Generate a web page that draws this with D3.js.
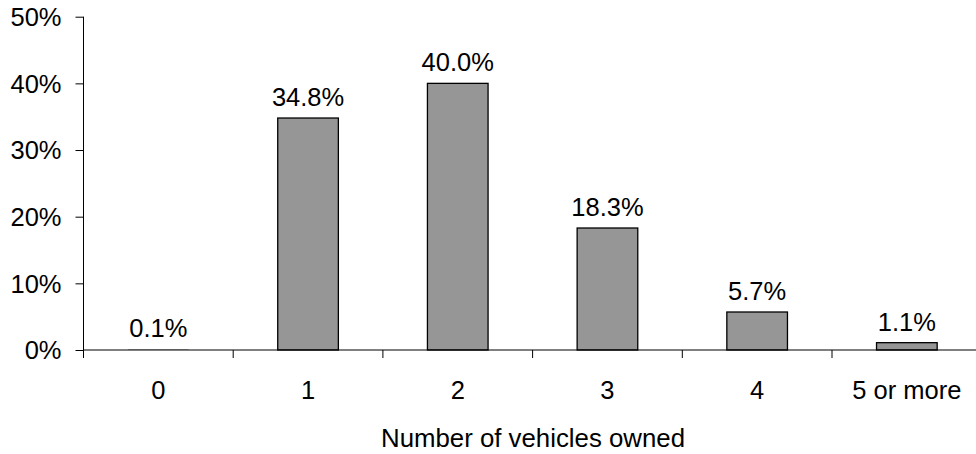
<!DOCTYPE html>
<html>
<head>
<meta charset="utf-8">
<script src="https://cdn.jsdelivr.net/npm/d3@7"></script>
<style>
  body { margin: 0; background: #fff; }
  text { font-family: "Liberation Sans", Arial, sans-serif; fill: #000; }
</style>
</head>
<body>
<div id="chart"></div>
<script>
// data
var categories = ["0", "1", "2", "3", "4", "5 or more"];
var shares = [0.1, 34.8, 40.0, 18.3, 5.7, 1.1];
var yTicks = [0, 10, 20, 30, 40, 50];

var width = 976, height = 454;

var svg = d3.select("#chart").append("svg")
    .attr("width", width)
    .attr("height", height);

// plot area
var plotLeft = 83.5, plotTop = 16.7, plotBottom = 350;
var step = 149.7;

var x = d3.scaleBand()
    .domain(categories)
    .range([plotLeft, plotLeft + step * categories.length])
    .padding(0);

var y = d3.scaleLinear()
    .domain([0, 50])
    .range([plotBottom, plotTop]);

var barW = x.bandwidth() * 0.405;

//bars (a bar thinner than a pixel just melts into the axis line)
svg.selectAll("rect.bar")
  .data(shares)
  .enter().append("rect")
    .attr("class", "bar")
    .attr("x", function(d, i) { return x(categories[i]) + (x.bandwidth() - barW) / 2; })
    .attr("y", function(d) { return y(d); })
    .attr("width", barW)
    .attr("height", function(d) { return plotBottom - y(d); })
    .style("fill", "#969696")
    .style("stroke", function(d) { return plotBottom - y(d) > 1 ? "#000" : "none"; })
    .style("stroke-width", 1.3);

//value labels
svg.selectAll("text.val")
  .data(shares)
  .enter().append("text")
    .attr("class", "val")
    .attr("x", function(d, i) { return x(categories[i]) + x.bandwidth() / 2; })
    .attr("y", function(d) { return y(d) - 12; })
    .attr("text-anchor", "middle")
    .style("font-size", "25.5px")
    .text(function(d) { return d.toFixed(1) + "%"; });

//y axis
var yAxis = d3.axisLeft(y)
    .tickValues(yTicks)
    .tickSize(8)
    .tickPadding(14)
    .tickFormat(function(d) { return d + "%"; });

var gy = svg.append("g")
    .attr("transform", "translate(" + plotLeft + ",0)")
    .call(yAxis);
gy.select(".domain").attr("d", "M0," + plotTop + "V" + plotBottom).style("stroke", "#000");
gy.selectAll(".tick line").style("stroke", "#000");
gy.selectAll(".tick text")
    .style("font-size", "25.5px")
    .attr("dy", "0.35em")
    .style("font-family", "'Liberation Sans', Arial, sans-serif");

//x axis: ticks on boundaries between categories
var gx = svg.append("g");
gx.append("line")
    .attr("x1", plotLeft).attr("x2", width)
    .attr("y1", plotBottom).attr("y2", plotBottom)
    .style("stroke", "#000").style("stroke-width", 1);
gx.selectAll("line.xt")
  .data(categories)
  .enter().append("line")
    .attr("class", "xt")
    .attr("x1", function(d) { return x(d); })
    .attr("x2", function(d) { return x(d); })
    .attr("y1", plotBottom).attr("y2", plotBottom + 8)
    .style("stroke", "#000");
gx.selectAll("text.xl")
  .data(categories)
  .enter().append("text")
    .attr("class", "xl")
    .attr("x", function(d) { return x(d) + x.bandwidth() / 2; })
    .attr("y", 399.3)
    .attr("text-anchor", "middle")
    .style("font-size", "25.5px")
    .text(function(d) { return d; });

//axis title
svg.append("text")
    .attr("x", 533)
    .attr("y", 447.3)
    .attr("text-anchor", "middle")
    .style("font-size", "25.8px")
    .text("Number of vehicles owned");
</script>
</body>
</html>
